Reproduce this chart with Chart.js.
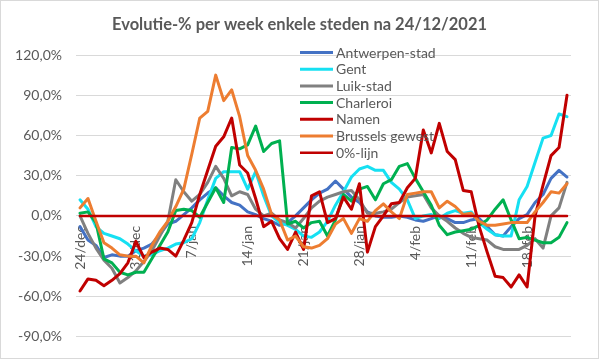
<!DOCTYPE html>
<html>
<head>
<meta charset="utf-8">
<script src="https://cdn.jsdelivr.net/npm/chart.js@4.4.0/dist/chart.umd.min.js"></script>
<style>
html,body{margin:0;padding:0;background:#fff;}
#wrap{width:599px;height:359px;position:relative;}
canvas{display:block;}
</style>
</head>
<body>
<div id="wrap"><canvas id="c" width="599" height="359"></canvas></div>
<script>
const chartTitle = "Evolutie-% per week enkele steden na 24/12/2021";

const categories = [
  "24/dec","25/dec","26/dec","27/dec","28/dec","29/dec","30/dec",
  "31/dec","1/jan","2/jan","3/jan","4/jan","5/jan","6/jan",
  "7/jan","8/jan","9/jan","10/jan","11/jan","12/jan","13/jan",
  "14/jan","15/jan","16/jan","17/jan","18/jan","19/jan","20/jan",
  "21/jan","22/jan","23/jan","24/jan","25/jan","26/jan","27/jan",
  "28/jan","29/jan","30/jan","31/jan","1/feb","2/feb","3/feb",
  "4/feb","5/feb","6/feb","7/feb","8/feb","9/feb","10/feb",
  "11/feb","12/feb","13/feb","14/feb","15/feb","16/feb","17/feb",
  "18/feb","19/feb","20/feb","21/feb","22/feb","23/feb"
];

const seriesNames = ["Antwerpen-stad","Gent","Luik-stad","Charleroi","Namen","Brussels gewest","0%-lijn"];

const antwerpen = [-8,-18,-22,-31,-29,-30,-30,-26,-24,-21,-14,-6,-4,1,6,12,17,21,15,10,8,3,1,-2,-4,-7,-5,0,6,12,17,20,26,20,14,10,3,0,-1,-1,0,-1,-3,-4,-2,0,-2,-5,-5,-3,-2,-8,-14,-15,-8,-2,1,10,16,28,34,29];
const gent = [12,5,-8,-13,-15,-17,-21,-26,-30,-29,-26,-24,-21,-20,-17,-5,12,28,33,33,33,20,33,15,0,-5,-7,-10,-15,-16,-12,-4,8,18,29,35,37,34,34,25,20,12,-2,0,1,-2,2,4,2,3,-5,-10,-14,-15,-15,12,22,40,58,60,76,74];
const luik = [0,-13,-24,-33,-39,-50,-46,-41,-34,-26,-15,-4,27,18,11,16,25,37,28,15,18,16,5,0,2,-3,-5,-9,-2,6,11,14,16,18,19,12,2,2,3,5,10,14,15,16,6,0,-4,-9,-13,-16,-17,-18,-23,-25,-25,-25,-22,-17,-24,0,6,25];
const charleroi = [2,3,-5,-32,-35,-42,-44,-42,-42,-32,-22,-12,4,5,4,-1,10,21,10,51,50,53,67,48,54,56,-6,-4,-9,-5,-4,-15,-3,16,11,20,22,12,24,27,37,39,28,18,8,-7,-14,-12,-11,-10,-7,-3,5,12,-3,-17,-16,-18,-20,-20,-16,-5];
const namen = [-56,-47,-48,-52,-48,-43,-35,-19,-31,-27,-24,-25,-30,-18,-5,16,34,52,59,73,38,32,13,-8,-4,-17,-25,-12,-25,15,18,-5,-2,14,5,24,-27,-8,0,9,10,21,28,64,47,69,48,42,19,18,-8,-27,-45,-46,-53,-44,-53,0,23,45,51,90];
const brussels = [6,13,-4,-20,-24,-29,-30,-30,-35,-22,-12,-4,7,20,46,73,78,105,86,94,74,45,34,20,1,-3,-18,-15,-23,-24,-22,-17,-6,-2,-13,-2,-4,4,9,3,-2,16,17,18,18,6,11,7,1,2,-4,-7,-7,-6,-5,-5,-5,3,10,18,17,24];
const zeroLine = [0,0,0,0,0,0,0,0,0,0,0,0,0,0,0,0,0,0,0,0,0,0,0,0,0,0,0,0,0,0,0,0,0,0,0,0,0,0,0,0,0,0,0,0,0,0,0,0,0,0,0,0,0,0,0,0,0,0,0,0,0,0];

const yMin = -90, yMax = 120, yStep = 30;
const tickEvery = 7;

const seriesData = [antwerpen, gent, luik, charleroi, namen, brussels, zeroLine];
const seriesColors = ["#4472C4","#16E0F2","#808080","#00B050","#C00000","#ED7D31","#C00000"];
const seriesWidths = [3,3,3,3,3,3,2.5];

const FONT = "Lato, 'Liberation Sans', sans-serif";
const TEXT = "#595959";

const datasets = seriesNames.map((n, k) => ({
  label: n,
  data: seriesData[k],
  borderColor: seriesColors[k],
  backgroundColor: seriesColors[k],
  borderWidth: seriesWidths[k],
  pointRadius: 0,
  pointHoverRadius: 0,
  tension: 0,
  fill: false,
  borderJoinStyle: 'round',
  borderCapStyle: 'round',
  order: seriesNames.length - k
}));

const legendInPlot = {
  id: 'legendInPlot',
  afterDatasetsDraw(chart) {
    const ctx = chart.ctx;
    ctx.save();
    ctx.font = "14px " + FONT;
    ctx.textBaseline = 'middle';
    ctx.textAlign = 'left';
    chart.data.datasets.forEach((ds, k) => {
      const y = 52.5 + k * 16.7;
      ctx.strokeStyle = ds.borderColor;
      ctx.lineWidth = ds.borderWidth;
      ctx.lineCap = 'butt';
      ctx.beginPath();
      ctx.moveTo(300, y);
      ctx.lineTo(333, y);
      ctx.stroke();
      ctx.fillStyle = TEXT;
      ctx.fillText(ds.label, 336, y + 0.5);
    });
    ctx.restore();
  },
  afterDraw(chart) {
    const ctx = chart.ctx;
    ctx.save();
    ctx.strokeStyle = '#d9d9d9';
    ctx.lineWidth = 1;
    ctx.strokeRect(0.5, 0.5, chart.width - 1, chart.height - 1);
    ctx.restore();
  }
};

new Chart(document.getElementById('c'), {
  type: 'line',
  data: { labels: categories, datasets },
  plugins: [legendInPlot],
  options: {
    responsive: false,
    animation: false,
    devicePixelRatio: 1,
    layout: { padding: { left: 0, right: 0, top: 0, bottom: 20 } },
    plugins: {
      legend: { display: false },
      tooltip: { enabled: false },
      title: {
        display: true,
        text: chartTitle,
        color: TEXT,
        font: { family: FONT, size: 16.5, weight: 'bold' },
        padding: { top: 15, bottom: 20.2 }
      }
    },
    scales: {
      x: {
        type: 'category',
        offset: true,
        position: { y: 0 },
        grid: { display: false, drawTicks: true, tickLength: 8 },
        border: { display: false },
        ticks: {
          autoSkip: false,
          minRotation: 90,
          maxRotation: 90,
          padding: 2,
          color: TEXT,
          font: { family: FONT, size: 14 },
          callback: (v, i) => (i % tickEvery === 0 ? categories[i] : '')
        },
        afterFit: (s) => { s.height = 0; }
      },
      y: {
        min: yMin,
        max: yMax,
        grid: { color: '#d9d9d9', lineWidth: 1, drawTicks: false },
        border: { display: false },
        ticks: {
          stepSize: yStep,
          padding: 14,
          color: TEXT,
          font: { family: FONT, size: 14 },
          callback: (v) => v.toFixed(1).replace('.', ',') + '%'
        },
        afterFit: (s) => { s.width = 76; }
      },
      yRightSpace: {
        type: 'linear',
        position: 'right',
        display: true,
        min: yMin,
        max: yMax,
        grid: { display: false, drawTicks: false },
        border: { display: false },
        ticks: { display: false },
        afterFit: (s) => { s.width = 28; }
      }
    }
  }
});
</script>
</body>
</html>
